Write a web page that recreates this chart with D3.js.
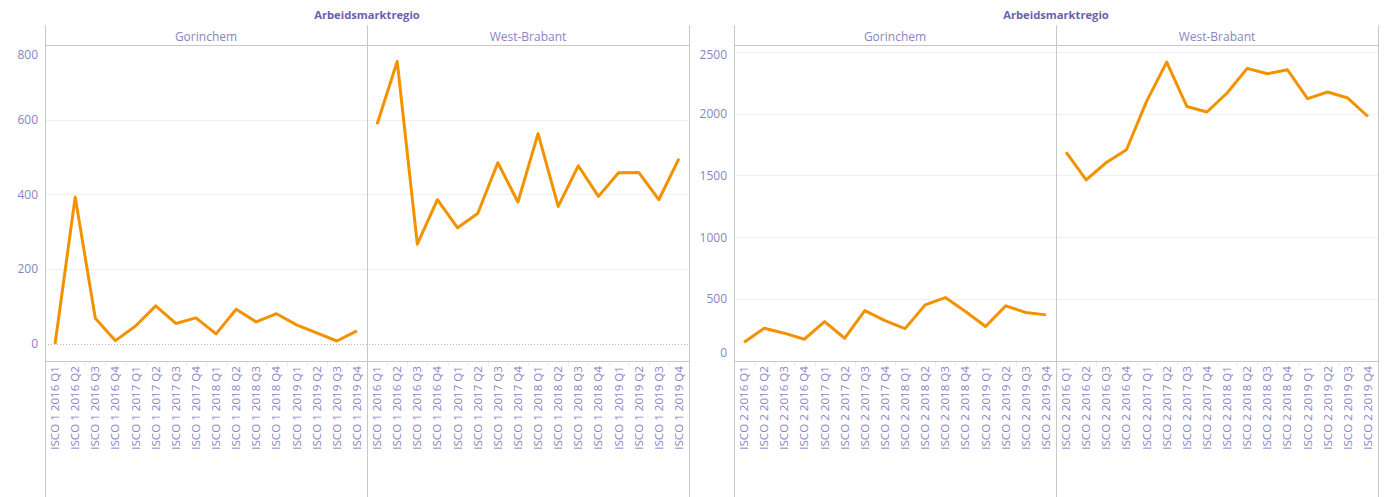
<!DOCTYPE html>
<html><head><meta charset="utf-8">
<script src="https://cdn.jsdelivr.net/npm/d3@7"></script>
<style>
html,body{margin:0;padding:0;background:#fff;}
svg{display:block;font-family:"Open Sans",sans-serif;}
</style></head>
<body><svg id="c" width="1391" height="497"></svg>
<script>
const quarters = ["2016 Q1","2016 Q2","2016 Q3","2016 Q4","2017 Q1","2017 Q2","2017 Q3","2017 Q4","2018 Q1","2018 Q2","2018 Q3","2018 Q4","2019 Q1","2019 Q2","2019 Q3","2019 Q4"];
const regions = ["Gorinchem","West-Brabant"];
const facetTitle = "Arbeidsmarktregio";
const groups = ["ISCO 1","ISCO 2"];
const isco1Gorinchem = [0,393,69,9,48,102,55,70,27,93,59,81,51,30,8,35];
const isco1WestBrabant = [588,756,267,386,311,349,485,380,563,368,477,395,458,459,386,496];
const isco2Gorinchem = [152,265,225,176,319,184,408,327,262,454,513,400,279,446,392,373];
const isco2WestBrabant = [1689,1465,1605,1708,2099,2417,2058,2013,2167,2366,2323,2355,2121,2175,2126,1977];
const ticks1 = [0,200,400,600,800];
const ticks2 = [0,500,1000,1500,2000,2500];

const svg = d3.select("#c");
const C_LINE = "#f39200", C_AXIS = "#c8c8c8", C_GRID = "#efefef";
const C_TXT = "#8a84c4", C_TITLE = "#6a62ac";

function chart(group, seriesList, ticks, domain, left, zeroDotted) {
  const top = 45, bottom = 361, paneW = 322, headTop = 25;
  const y = d3.scaleLinear().domain(domain).range([bottom, top]);
  const g = svg.append("g");
  g.append("text").attr("x", left + paneW).attr("y", 19).attr("text-anchor","middle")
    .attr("font-size", 11.2).attr("font-weight", "bold").attr("fill", C_TITLE).text(facetTitle);
  g.selectAll(".grid").data(ticks.filter(t => t !== 0)).join("line")
    .attr("x1", left).attr("x2", left + 2*paneW)
    .attr("y1", d => Math.round(y(d)) + 0.5).attr("y2", d => Math.round(y(d)) + 0.5)
    .attr("stroke", C_GRID).attr("stroke-width", 1);
  if (zeroDotted) {
    g.append("line").attr("x1", left).attr("x2", left + 2*paneW)
      .attr("y1", Math.round(y(0)) + 0.5).attr("y2", Math.round(y(0)) + 0.5)
      .attr("stroke", "#b4b4b4").attr("stroke-dasharray", "1,2");
  }
  g.selectAll(".yl").data(ticks).join("text")
    .attr("x", left - 7).attr("text-anchor", "end").attr("font-size", 12).attr("fill", C_TXT)
    .attr("y", d => Math.min(bottom - 8.5, Math.max(top + 9.5, y(d))))
    .attr("dy", "0.35em").text(d => d);
  regions.forEach((reg, i) => {
    const x0 = left + i*paneW;
    const x = d3.scalePoint().domain(quarters).range([x0, x0 + paneW]).padding(0.5);
    g.append("text").attr("x", x0 + paneW/2).attr("y", 41).attr("text-anchor", "middle")
      .attr("font-size", 12).attr("fill", C_TXT).text(reg);
    g.append("line").attr("x1", x0).attr("x2", x0 + paneW).attr("y1", bottom + 0.5).attr("y2", bottom + 0.5)
      .attr("stroke", C_AXIS);
    const bw = x.step();
    g.selectAll(null).data(quarters.slice(1)).join("line")
      .attr("x1", d => Math.round(x(d) - bw/2) + 0.5).attr("x2", d => Math.round(x(d) - bw/2) + 0.5)
      .attr("y1", bottom + 1).attr("y2", bottom + 5).attr("stroke", "#ececec");
    g.selectAll(null).data(quarters).join("text")
      .attr("transform", d => `translate(${x(d) + 4},${bottom + 5}) rotate(-90)`)
      .attr("text-anchor", "end").attr("font-size", 11.6).attr("fill", C_TXT)
      .text(d => group + " " + d);
    const line = d3.line().x((d, j) => x(quarters[j])).y(d => y(d));
    g.append("path").datum(seriesList[i]).attr("d", line).attr("fill", "none")
      .attr("stroke", C_LINE).attr("stroke-width", 3).attr("stroke-linejoin", "round");
  });
  g.append("line").attr("x1", left).attr("x2", left + 2*paneW).attr("y1", top + 0.5).attr("y2", top + 0.5)
    .attr("stroke", C_AXIS);
  [0, 1, 2].forEach(k => {
    const xx = Math.round(left + k*paneW) + 0.5;
    g.append("line").attr("x1", xx).attr("x2", xx).attr("y1", headTop).attr("y2", 497).attr("stroke", C_AXIS);
  });
}

chart(groups[0], [isco1Gorinchem, isco1WestBrabant], ticks1, [-45.5, 800], 45, true);
chart(groups[1], [isco2Gorinchem, isco2WestBrabant], ticks2, [0, 2555], 734, false);
</script></body></html>
